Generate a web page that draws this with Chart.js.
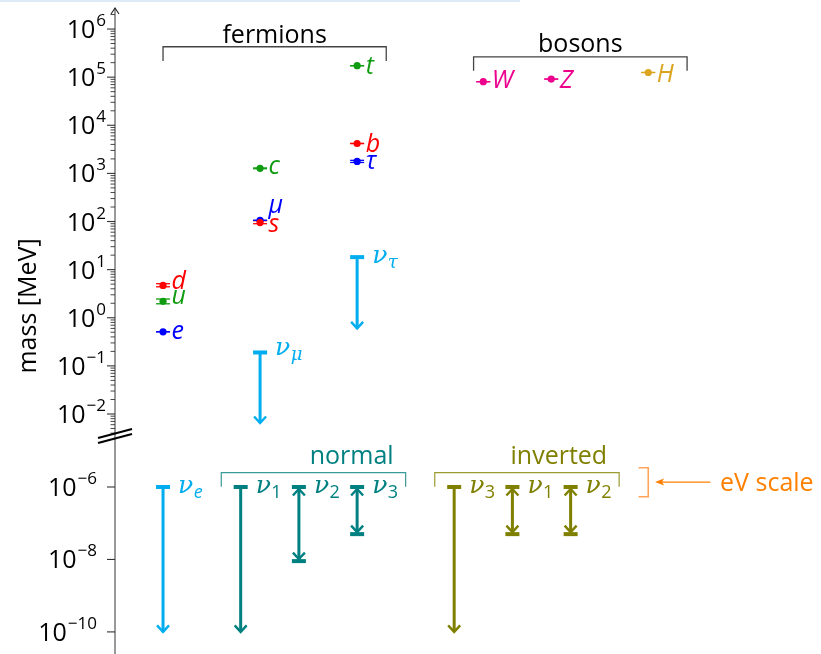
<!DOCTYPE html>
<html><head><meta charset="utf-8">
<script src="https://cdn.jsdelivr.net/npm/chart.js@4/dist/chart.umd.min.js"></script>
<style>
html,body{margin:0;padding:0;background:#fff;}
#wrap{position:relative;width:821px;height:654px;overflow:hidden;}
#topline{position:absolute;left:0;top:0;width:520px;height:2px;background:#dcebf7;}
canvas{display:block;}
</style></head><body>
<div id="wrap"><canvas id="c" width="821" height="654"></canvas><div id="topline"></div></div>
<script>
// ---------------- data ----------------
// charged fermions and bosons, mass in MeV
const particleNames = ['u', 'd', 'e', 'c', 's', 'μ', 't', 'b', 'τ', 'W', 'Z', 'H'];
const particleX     = [1, 1, 1, 2, 2, 2, 3, 3, 3, 4.3, 5, 6];
const particleMass  = [2.2, 4.7, 0.511, 1275, 95, 105.7, 173000, 4180, 1777, 80400, 91200, 125000];
const massErrUp     = [0.25, 0.4, 0.001, 25, 9, 0.1, 500, 30, 90, 15, 2, 400];
const massErrDown   = [0.25, 0.3, 0.001, 25, 5, 0.1, 500, 30, 90, 15, 2, 400];

// neutrinos on the MeV part of the axis (upper limits)
const nuTopSub     = ['μ', 'τ'];
const nuTopX       = [2, 3];
const nuTopLimit   = [0.19, 18.2];
const nuTopArrowTo = [0.0065, 0.6];

// neutrinos on the eV part of the axis (values in MeV)
const nuLowSub   = ['e', '1', '2', '3', '3', '1', '2'];
const nuLowGroup = ['flavour', 'normal', 'normal', 'normal', 'inverted', 'inverted', 'inverted'];
const nuLowX     = [1, 1.8, 2.4, 3, 4, 4.6, 5.2];
const nuLowUpper = [1e-6, 1e-6, 1e-6, 1e-6, 1e-6, 1e-6, 1e-6];
const nuLowLower = [1e-10, 1e-10, 9e-9, 5e-8, 1e-10, 5e-8, 5e-8];
const nuLowKind  = ['limit', 'limit', 'range', 'range', 'limit', 'range', 'range'];

// axis ticks (exponents of 10)
const topTickExps = [-2, -1, 0, 1, 2, 3, 4, 5, 6];
const lowTickExps = [-10, -8, -6];
const groupLabels = ['fermions', 'bosons', 'normal', 'inverted'];

// ---------------- styles ----------------
const C = {
  blue: '#0000ff', red: '#ff0000', green: '#109c10', pink: '#ec008c', gold: '#dba520',
  cyan: '#00aeef', teal: '#008080', olive: '#808000', orange: '#ff8000', orangeLight: '#ffa55a',
  axis: '#555555', bracket: '#444444'
};
const particleColor = { u: C.green, c: C.green, t: C.green, d: C.red, s: C.red, b: C.red,
  e: C.blue, 'μ': C.blue, 'τ': C.blue, W: C.pink, Z: C.pink, H: C.gold };
const labelDy = { u: 3, d: 4, e: 7.5, c: 6, s: 9.5, 'μ': -7, t: 8.5, b: 8.5, 'τ': 7.5, W: 6.5, Z: 9, H: 9.5 };
const groupColor = { flavour: C.cyan, normal: C.teal, inverted: C.olive };
const SANS = '"Open Sans", "DejaVu Sans", sans-serif';
const SERIF = '"DejaVu Serif", "Liberation Serif", serif';

// ---------------- datasets ----------------
const datasets = [];
particleNames.forEach((n, i) => {
  datasets.push({
    label: n, yAxisID: 'yTop', data: [{ x: particleX[i], y: particleMass[i] }],
    pointRadius: 3.6, pointBackgroundColor: particleColor[n], pointBorderWidth: 0,
    borderColor: particleColor[n], order: 0
  });
});
nuTopSub.forEach((s, i) => {
  datasets.push({
    label: 'ν' + s, yAxisID: 'yTop', showLine: true, pointRadius: 0,
    data: [{ x: nuTopX[i], y: nuTopLimit[i] }, { x: nuTopX[i], y: nuTopArrowTo[i] }],
    borderColor: C.cyan, borderWidth: 3, borderCapStyle: 'butt', order: 1
  });
});
nuLowSub.forEach((s, i) => {
  datasets.push({
    label: 'ν' + s, yAxisID: 'yBot', showLine: true, pointRadius: 0,
    data: [{ x: nuLowX[i], y: nuLowUpper[i] }, { x: nuLowX[i], y: nuLowLower[i] }],
    borderColor: groupColor[nuLowGroup[i]], borderWidth: 3, borderCapStyle: 'butt', order: 1
  });
});

// ---------------- helpers ----------------
function line(ctx, pts, color, w) {
  ctx.save(); ctx.beginPath(); ctx.strokeStyle = color; ctx.lineWidth = w;
  ctx.lineCap = 'butt'; ctx.lineJoin = 'miter';
  pts.forEach((p, k) => k ? ctx.lineTo(p[0], p[1]) : ctx.moveTo(p[0], p[1]));
  ctx.stroke(); ctx.restore();
}
function cap(ctx, x, y, color) {
  ctx.fillStyle = color; ctx.fillRect(x - 7, y - 2, 14, 4);
}
function head(ctx, x, tip, dir, color) { // dir=+1 pointing down, -1 pointing up
  line(ctx, [[x - 6, tip - 6.5 * dir], [x, tip], [x + 6, tip - 6.5 * dir]], color, 2.4);
}
function drawNu(ctx, x, yMid, sub, color) {
  ctx.save();
  ctx.fillStyle = color; ctx.textAlign = 'left'; ctx.textBaseline = 'alphabetic';
  ctx.font = 'italic 25px ' + SERIF;
  const base = yMid + 6;
  ctx.fillText('ν', x, base);
  const w = ctx.measureText('ν').width;
  const greek = (sub === 'μ' || sub === 'τ');
  ctx.font = greek ? 'italic 18px ' + SERIF : (sub === 'e' ? 'italic 18px ' : '18px ') + SANS;
  ctx.fillText(sub, x + w + 0.5, base + 5);
  ctx.restore();
}
function text(ctx, s, x, y, color, font, align) {
  ctx.save(); ctx.fillStyle = color; ctx.font = font; ctx.textAlign = align || 'left';
  ctx.textBaseline = 'alphabetic'; ctx.fillText(s, x, y); ctx.restore();
}
function tickLabel(ctx, exp, y, right) {
  ctx.save(); ctx.fillStyle = '#000'; ctx.textBaseline = 'alphabetic'; ctx.textAlign = 'left';
  const e = String(exp).replace('-', '−');
  ctx.font = '17px ' + SANS; const we = ctx.measureText(e).width;
  ctx.font = '25px ' + SANS; const wb = ctx.measureText('10').width;
  const x0 = right - we - wb - 1;
  ctx.fillText('10', x0, y + 9);
  ctx.font = '17px ' + SANS; ctx.fillText(e, x0 + wb + 1, y - 3);
  ctx.restore();
}

// ---------------- plugin ----------------
const extras = {
  id: 'extras',
  beforeDatasetsDraw(chart) {
    const ctx = chart.ctx, xs = chart.scales.x, yt = chart.scales.yTop, yb = chart.scales.yBot;
    const ax = chart.chartArea.left;
    // axis line with arrow
    line(ctx, [[ax, chart.chartArea.top], [ax, chart.chartArea.bottom]], C.axis, 1.2);
    line(ctx, [[ax - 4, chart.chartArea.top + 6], [ax, chart.chartArea.top], [ax + 4, chart.chartArea.top + 6]], '#222', 1.1);
    // ticks and labels
    topTickExps.forEach(e => {
      const y = yt.getPixelForValue(Math.pow(10, e));
      line(ctx, [[ax - 8, y], [ax, y]], '#333', 1.1);
      tickLabel(ctx, e, y, 106);
    });
    for (let e = -3; e <= 6; e++) {
      for (let k = 2; k <= 9; k++) {
        const v = k * Math.pow(10, e);
        if (v < yt.min || v > yt.max) continue;
        const y = yt.getPixelForValue(v);
        line(ctx, [[ax - 4.5, y], [ax, y]], '#333', 0.9);
      }
    }
    lowTickExps.forEach(e => {
      const y = yb.getPixelForValue(Math.pow(10, e));
      line(ctx, [[ax - 8, y], [ax, y]], '#333', 1.1);
      tickLabel(ctx, e, y, 97);
    });
    // axis break
    const by = yt.bottom;
    line(ctx, [[ax - 17, by + 1], [ax + 17, by - 8]], '#000', 2);
    line(ctx, [[ax - 17, by + 6], [ax + 17, by - 3]], '#000', 2);
    // axis title
    ctx.save(); ctx.translate(29, 306); ctx.rotate(-Math.PI / 2);
    ctx.fillStyle = '#000'; ctx.font = '25px ' + SANS; ctx.textAlign = 'center'; ctx.textBaseline = 'middle';
    ctx.fillText('mass [MeV]', 0, 0); ctx.restore();
    // error bars
    particleNames.forEach((n, i) => {
      const px = xs.getPixelForValue(particleX[i]);
      const y1 = yt.getPixelForValue(particleMass[i] + massErrUp[i]);
      const y2 = yt.getPixelForValue(particleMass[i] - massErrDown[i]);
      const col = particleColor[n];
      line(ctx, [[px - 7, y1], [px + 7, y1]], col, 1.3);
      line(ctx, [[px - 7, y2], [px + 7, y2]], col, 1.3);
      line(ctx, [[px, y1], [px, y2]], col, 1.3);
    });
  },
  afterDatasetsDraw(chart) {
    const ctx = chart.ctx, xs = chart.scales.x, yt = chart.scales.yTop, yb = chart.scales.yBot;
    // particle labels
    particleNames.forEach((n, i) => {
      const px = xs.getPixelForValue(particleX[i]);
      const py = yt.getPixelForValue(particleMass[i]);
      text(ctx, n, px + 8.5, py + labelDy[n], particleColor[n], 'italic 25px ' + SANS);
    });
    // neutrinos, MeV part
    nuTopSub.forEach((s, i) => {
      const px = xs.getPixelForValue(nuTopX[i]);
      const yTopPx = yt.getPixelForValue(nuTopLimit[i]);
      const yTip = yt.getPixelForValue(nuTopArrowTo[i]);
      cap(ctx, px, yTopPx, C.cyan);
      head(ctx, px, yTip, 1, C.cyan);
      drawNu(ctx, px + 15, yTopPx - (s === 'μ' ? 3 : 0), s, C.cyan);
    });
    // neutrinos, eV part
    nuLowSub.forEach((s, i) => {
      const col = groupColor[nuLowGroup[i]];
      const px = xs.getPixelForValue(nuLowX[i]);
      const yU = yb.getPixelForValue(nuLowUpper[i]);
      const yL = yb.getPixelForValue(nuLowLower[i]);
      cap(ctx, px, yU, col);
      if (nuLowKind[i] === 'limit') {
        head(ctx, px, yL, 1, col);
      } else {
        cap(ctx, px, yL, col);
        head(ctx, px, yU + 2, -1, col);
        head(ctx, px, yL - 2, 1, col);
      }
      drawNu(ctx, px + 15, yU, s, col);
    });
    // group brackets
    const br = (scale, x0, x1, yBar, yFoot, col, w) => {
      const a = xs.getPixelForValue(x0), b = xs.getPixelForValue(x1);
      const yb1 = scale.getPixelForValue(yBar), yf = scale.getPixelForValue(yFoot);
      line(ctx, [[a, yf], [a, yb1], [b, yb1], [b, yf]], col, w);
      return { a, b, y: yb1 };
    };
    let g = br(yt, 1, 3.3, 4.28e5, 2.16e5, C.bracket, 1.3);
    text(ctx, groupLabels[0], (g.a + g.b) / 2, g.y - 4, '#000', '25px ' + SANS, 'center');
    g = br(yt, 4.2, 6.4, 2.65e5, 1.36e5, C.bracket, 1.3);
    text(ctx, groupLabels[1], (g.a + g.b) / 2, g.y - 5, '#000', '25px ' + SANS, 'center');
    g = br(yb, 1.6, 3.5, 2.48e-6, 1.02e-6, '#3a9a9a', 1.2);
    text(ctx, groupLabels[2], g.b - 12, g.y - 9, C.teal, '25px ' + SANS, 'right');
    g = br(yb, 3.8, 5.7, 2.48e-6, 1.02e-6, '#9a9a30', 1.2);
    text(ctx, groupLabels[3], g.b - 12, g.y - 9, C.olive, '25px ' + SANS, 'right');
    // eV scale marker
    const ex = xs.getPixelForValue(6.0), exTip = xs.getPixelForValue(5.9);
    const eTop = yb.getPixelForValue(3.41e-6), eBot = yb.getPixelForValue(5.4e-7);
    line(ctx, [[exTip, eTop], [ex, eTop], [ex, eBot], [exTip, eBot]], C.orangeLight, 1.6);
    const ay = yb.getPixelForValue(1.37e-6);
    const aTip = xs.getPixelForValue(6.07), aEnd = xs.getPixelForValue(6.64);
    line(ctx, [[aEnd, ay], [aTip + 4, ay]], C.orange, 1.2);
    ctx.save(); ctx.fillStyle = C.orange; ctx.beginPath();
    ctx.moveTo(aTip, ay); ctx.lineTo(aTip + 9, ay - 3.5); ctx.lineTo(aTip + 7, ay); ctx.lineTo(aTip + 9, ay + 3.5);
    ctx.closePath(); ctx.fill(); ctx.restore();
    text(ctx, 'eV scale', xs.getPixelForValue(6.74), ay + 9, C.orange, '25px ' + SANS, 'left');
  }
};

new Chart(document.getElementById('c'), {
  type: 'scatter',
  data: { datasets },
  options: {
    responsive: false, animation: false, devicePixelRatio: 1, events: [],
    layout: { autoPadding: false, padding: { left: 115, right: 0, top: 8, bottom: 0 } },
    plugins: { legend: { display: false }, tooltip: { enabled: false } },
    scales: {
      x: { type: 'linear', min: 0.505, max: 7.78, display: false },
      y: { display: false },
      yTop: { type: 'logarithmic', position: 'left', display: false, bounds: 'data',
              min: Math.pow(10, -2.478), max: Math.pow(10, 6.437), stack: 'mass', stackWeight: 429, weight: 2 },
      yBot: { type: 'logarithmic', position: 'left', display: false, bounds: 'data',
              min: Math.pow(10, -10.61), max: Math.pow(10, -4.62), stack: 'mass', stackWeight: 217, weight: 1 }
    }
  },
  plugins: [extras]
});
</script>
</body></html>
